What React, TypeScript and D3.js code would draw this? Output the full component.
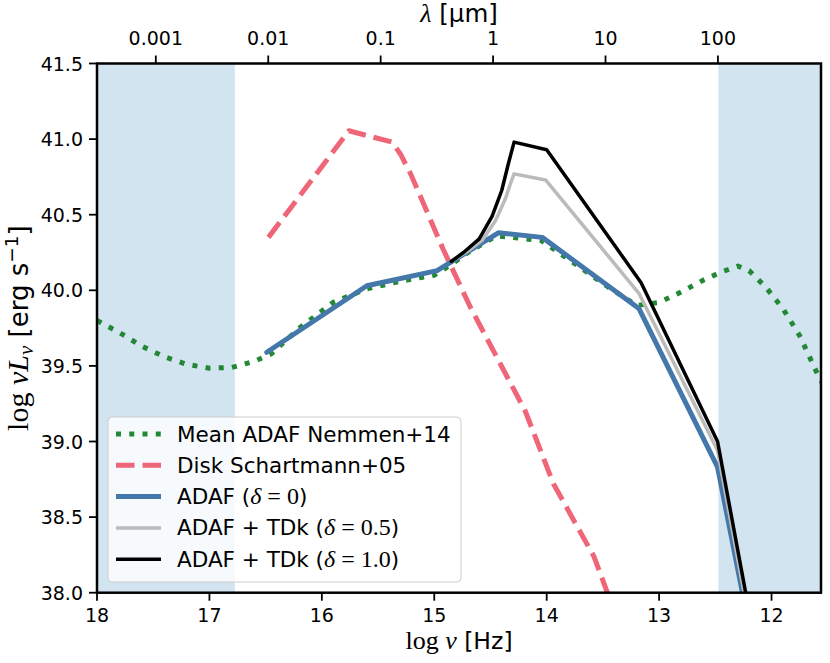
import * as d3 from "d3";

// log nu [Hz] vs log nuL_nu [erg/s]
const meanAdaf: [number, number][] = [
  [18.0, 39.8], [17.8, 39.72], [17.6, 39.63], [17.4, 39.56], [17.2, 39.51],
  [17.0, 39.485], [16.8, 39.49], [16.6, 39.53], [16.45, 39.58], [16.2, 39.75],
  [15.9, 39.92], [15.6, 40.01], [15.3, 40.06], [15.0, 40.1], [14.85, 40.17],
  [14.7, 40.25], [14.45, 40.36], [14.05, 40.33], [13.7, 40.15], [13.45, 40.02],
  [13.2, 39.9], [13.0, 39.92], [12.8, 39.99], [12.6, 40.07], [12.45, 40.12],
  [12.3, 40.16], [12.2, 40.13], [12.05, 40.02], [11.9, 39.88], [11.75, 39.7],
  [11.6, 39.46], [11.5, 39.32],
];
const diskSchartmann: [number, number][] = [
  [16.475, 40.35], [15.76, 41.055], [15.375, 40.98], [15.3, 40.9], [15.21, 40.77], [14.92, 40.27],
  [14.68, 39.89], [14.19, 39.2], [13.94, 38.72], [13.58, 38.24], [13.46, 38.0], [13.4, 37.88],
];
const adaf0: [number, number][] = [
  [16.49, 39.59], [15.6, 40.03], [14.975, 40.13], [14.43, 40.38], [14.04, 40.35],
  [13.18, 39.88], [12.48, 38.83], [12.2, 37.78],
];
const tdk05: [number, number][] = [
  [14.85, 40.19], [14.7, 40.26], [14.575, 40.33], [14.456, 40.46], [14.37, 40.6],
  [14.32, 40.71], [14.29, 40.77], [14.01, 40.73], [13.18, 39.98], [12.48, 38.94], [12.2, 37.82],
];
const tdk10: [number, number][] = [
  [14.85, 40.19], [14.74, 40.25], [14.6, 40.34], [14.485, 40.49], [14.4, 40.66],
  [14.34, 40.84], [14.29, 40.98], [14.0, 40.93], [13.16, 40.05], [12.48, 39.0], [12.2, 37.88],
];

const xTicks = [18, 17, 16, 15, 14, 13, 12];
const yTicks = [38.0, 38.5, 39.0, 39.5, 40.0, 40.5, 41.0, 41.5];
const lambdaTicks = [0.001, 0.01, 0.1, 1, 10, 100];
const lambdaLabels = ["0.001", "0.01", "0.1", "1", "10", "100"];
const shaded: [number, number][] = [[18, 16.774], [12.473, 11.56]];

const W = 830, H = 663;
const m = { left: 97, right: 821, top: 63.5, bottom: 592.7 };
const sans = "DejaVu Sans, sans-serif";
const serif = "Liberation Serif, DejaVu Serif, serif";

const series = [
  { data: meanAdaf, color: "#228833", width: 5, dash: "5,8.25", label: "mean" },
  { data: diskSchartmann, color: "#EE6677", width: 5, dash: "18.5,8", label: "disk" },
  { data: adaf0, color: "#4477AA", width: 5, dash: "", label: "adaf" },
  { data: tdk05, color: "#BBBBBB", width: 3.5, dash: "", label: "tdk05" },
  { data: tdk10, color: "#000000", width: 3.5, dash: "", label: "tdk10" },
];

export default function App() {
  const x = d3.scaleLinear().domain([18, 11.56]).range([m.left, m.right]);
  const y = d3.scaleLinear().domain([38, 41.5]).range([m.bottom, m.top]);
  const line = d3.line<[number, number]>().x((d) => x(d[0])).y((d) => y(d[1]));
  const lamToNu = (l: number) => Math.log10(2.998e14 / l);

  const legendX = 108, legendY = 417, rowH = 31.3;
  const fs = 19;
  const lfs = 21.5;

  return (
    <svg width={W} height={H} style={{ position: "absolute", left: 0, top: 0, background: "#fff" }}>
      <defs>
        <clipPath id="plot">
          <rect x={m.left} y={m.top} width={m.right - m.left} height={m.bottom - m.top} />
        </clipPath>
      </defs>

      {shaded.map(([a, b], i) => (
        <rect key={i} x={x(a)} y={m.top} width={x(b) - x(a)} height={m.bottom - m.top} fill="#d2e4f0" />
      ))}

      <g clipPath="url(#plot)">
        {series.map((s) => (
          <path key={s.label} d={line(s.data) || ""} fill="none" stroke={s.color}
            strokeWidth={s.width} strokeDasharray={s.dash || undefined}
            strokeLinejoin="round" strokeLinecap={s.dash ? "butt" : "round"} />
        ))}
      </g>

      {/* frame */}
      <rect x={m.left} y={m.top} width={m.right - m.left} height={m.bottom - m.top}
        fill="none" stroke="#000" strokeWidth={2.5} />

      {/* bottom axis */}
      {xTicks.map((t) => (
        <g key={t}>
          <line x1={x(t)} x2={x(t)} y1={m.bottom} y2={m.bottom + 8} stroke="#000" strokeWidth={1.8} />
          <text x={x(t)} y={m.bottom + 29} textAnchor="middle" fontFamily={sans} fontSize={fs}>{t}</text>
        </g>
      ))}
      {/* left axis */}
      {yTicks.map((t) => (
        <g key={t}>
          <line x1={m.left - 8} x2={m.left} y1={y(t)} y2={y(t)} stroke="#000" strokeWidth={1.8} />
          <text x={m.left - 14} y={y(t) + 7} textAnchor="end" fontFamily={sans} fontSize={fs}>{t.toFixed(1)}</text>
        </g>
      ))}
      {/* top axis in wavelength */}
      {lambdaTicks.map((l, i) => (
        <g key={l}>
          <line x1={x(lamToNu(l))} x2={x(lamToNu(l))} y1={m.top - 8} y2={m.top} stroke="#000" strokeWidth={1.8} />
          <text x={x(lamToNu(l))} y={m.top - 18.5} textAnchor="middle" fontFamily={sans} fontSize={fs}>{lambdaLabels[i]}</text>
        </g>
      ))}

      {/* axis labels */}
      <text x={459} y={649} textAnchor="middle" fontSize={26}>
        <tspan fontFamily={serif}>log </tspan>
        <tspan fontFamily={serif} fontStyle="italic">ν</tspan>
        <tspan fontFamily={sans} fontSize={23.5}> [Hz]</tspan>
      </text>
      <text x={459} y={22} textAnchor="middle" fontSize={24.5}>
        <tspan fontFamily={serif} fontStyle="italic" fontSize={26}>λ</tspan>
        <tspan fontFamily={sans}> [μm]</tspan>
      </text>
      <text transform={`translate(28,${(m.top + m.bottom) / 2}) rotate(-90)`} textAnchor="middle" fontSize={30}>
        <tspan fontFamily={serif}>log </tspan>
        <tspan fontFamily={serif} fontStyle="italic">νL</tspan>
        <tspan fontFamily={serif} fontStyle="italic" fontSize={21} dy={5}>ν</tspan>
        <tspan fontFamily={sans} fontSize={26} dy={-5}> [erg s</tspan>
        <tspan fontFamily={sans} fontSize={18.5} dy={-10}>−1</tspan>
        <tspan fontFamily={sans} fontSize={26} dy={10}>]</tspan>
      </text>

      {/* legend */}
      <rect x={legendX} y={legendY} width={353} height={165} rx={4} fill="#fff" fillOpacity={0.8} stroke="#cccccc" strokeWidth={1} />
      {series.map((s, i) => {
        const cy = legendY + 17 + i * rowH;
        return (
          <line key={s.label} x1={116} x2={161} y1={cy} y2={cy} stroke={s.color} strokeWidth={s.width}
            strokeDasharray={s.dash || undefined} strokeLinecap="butt" />
        );
      })}
      {[0, 1, 2, 3, 4].map((i) => {
        const by = legendY + 17 + i * rowH + 7.5;
        const tx = 177;
        if (i === 0) return <text key={i} x={tx} y={by} fontFamily={sans} fontSize={lfs}>Mean ADAF Nemmen+14</text>;
        if (i === 1) return <text key={i} x={tx} y={by} fontFamily={sans} fontSize={lfs}>Disk Schartmann+05</text>;
        const pre = i === 2 ? "ADAF (" : "ADAF + TDk (";
        const val = i === 2 ? "0" : i === 3 ? "0.5" : "1.0";
        return (
          <text key={i} x={tx} y={by} fontSize={lfs}>
            <tspan fontFamily={sans}>{pre}</tspan>
            <tspan fontFamily={serif} fontStyle="italic" fontSize={24}>δ</tspan>
            <tspan fontFamily={serif} fontSize={24}> = {val}</tspan>
            <tspan fontFamily={sans}>)</tspan>
          </text>
        );
      })}
    </svg>
  );
}
